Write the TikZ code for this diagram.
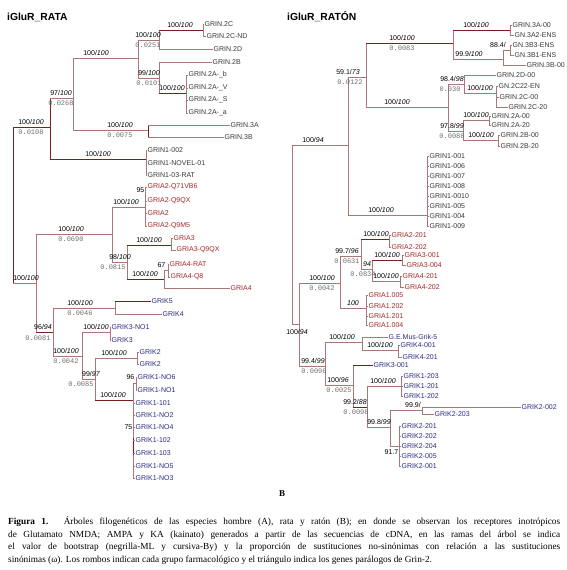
\documentclass[tikz,border=0pt]{standalone}
\usepackage{fontspec}
\setmainfont{Liberation Serif}
\setsansfont{Liberation Sans}
\setmonofont{Liberation Mono}
\definecolor{brC}{HTML}{A87878}
\definecolor{brD}{HTML}{7A1E1E}
\definecolor{nC}{HTML}{383838}
\definecolor{aC}{HTML}{A02828}
\definecolor{kC}{HTML}{2A2A80}
\definecolor{valC}{HTML}{6E6E6E}
\tikzset{
 br/.style={draw=brC, line width=0.75pt},
 brd/.style={draw=brD, line width=0.9pt},
 lab/.style={font=\sffamily\fontsize{7}{7}\selectfont, inner sep=0.5pt, text=black},
 val/.style={font=\ttfamily\fontsize{7}{7}\selectfont, inner sep=0.5pt, text=valC},
 leafN/.style={lab, anchor=west, text=nC},
 leafA/.style={lab, anchor=west, text=aC},
 leafK/.style={lab, anchor=west, text=kC},
 ttl/.style={font=\sffamily\bfseries\fontsize{10.3}{11}\selectfont, anchor=west, inner sep=0},
 capline/.style={font=\fontsize{9.3}{11}\selectfont, anchor=west, inner sep=0},
}
\newcommand\bsl[5]{\node[lab] (#1) at (#2,#3-5) {#4/\textit{#5}};}
\newcommand\oml[4]{\node[val] (#1) at (#2,#3+5.5) {#4};}
\newcommand\lf[5]{\node[#1] (#2) at (#3,#4) {#5};}
\begin{document}
\begin{tikzpicture}[x=1pt,y=-1pt]
\path[use as bounding box] (0,0) rectangle (566,570);
% ---------------- titles
\node[ttl] (t1) at (7,17) {iGluR\_RATA};
\node[ttl] (t2) at (287,17) {iGluR\_RATÓN};
% ================= LEFT TREE: leaves
\lf{leafN}{a1}{204}{24}{GRIN.2C}
\lf{leafN}{a2}{206}{36}{GRIN.2C-ND}
\lf{leafN}{a3}{213}{49}{GRIN.2D}
\lf{leafN}{a4}{212}{62}{GRIN.2B}
\lf{leafN}{a5}{188}{75}{GRIN.2A-\_b}
\lf{leafN}{a6}{188}{88}{GRIN.2A-\_V}
\lf{leafN}{a7}{188}{100}{GRIN.2A-\_S}
\lf{leafN}{a8}{188}{113}{GRIN.2A-\_a}
\lf{leafN}{a9}{230}{125}{GRIN.3A}
\lf{leafN}{a10}{224}{137}{GRIN.3B}
\lf{leafN}{a11}{147}{150}{GRIN1-002}
\lf{leafN}{a12}{147}{163}{GRIN1-NOVEL-01}
\lf{leafN}{a13}{147}{175}{GRIN1-03-RAT}
\lf{leafA}{a14}{147}{187}{GRIA2-Q71VB6}
\lf{leafA}{a15}{147}{201}{GRIA2-Q9QX}
\lf{leafA}{a16}{147}{213}{GRIA2}
\lf{leafA}{a17}{147}{226}{GRIA2-Q9M5}
\lf{leafA}{a18}{173}{238}{GRIA3}
\lf{leafA}{a19}{176}{250}{GRIA3-Q9QX}
\lf{leafA}{a20}{169}{264}{GRIA4-RAT}
\lf{leafA}{a21}{170}{277}{GRIA4-Q8}
\lf{leafA}{a22}{230}{288}{GRIA4}
\lf{leafK}{a23}{151}{301}{GRIK5}
\lf{leafK}{a24}{162}{314}{GRIK4}
\lf{leafK}{a25}{111}{327}{GRIK3-NO1}
\lf{leafK}{a26}{111}{340}{GRIK3}
\lf{leafK}{a27}{139}{352}{GRIK2}
\lf{leafK}{a28}{139}{364}{GRIK2}
\lf{leafK}{a29}{137}{377}{GRIK1-NO6}
\lf{leafK}{a30}{137}{390}{GRIK1-NO1}
\lf{leafK}{a31}{135}{403}{GRIK1-101}
\lf{leafK}{a32}{135}{415}{GRIK1-NO2}
\lf{leafK}{a33}{135}{427}{GRIK1-NO4}
\lf{leafK}{a34}{135}{440}{GRIK1-102}
\lf{leafK}{a35}{135}{453}{GRIK1-103}
\lf{leafK}{a36}{135}{466}{GRIK1-NO5}
\lf{leafK}{a37}{135}{478}{GRIK1-NO3}
% LEFT TREE: branches
\draw[brd] (13,127) -- (13,283);
\draw[brd] (13,127) -- (50,127);
\draw[br] (13,283) -- (36,283);
\draw[brd] (50,98) -- (50,159);
\draw[br] (50,98) -- (73,98);
\draw[brd] (50,159) -- (146,159);
\draw[br] (146,150) -- (146,175);
\foreach \n/\y in {a11/150,a12/163,a13/175} \draw[br] (146,\y) -- (\n.west);
\draw[br] (73,58) -- (73,130);
\draw[br] (73,58) -- (138,58);
\draw[br] (73,130) -- (148,130);
\draw[brd] (148,125) -- (148,137);
\draw[br] (148,125) -- (a9.west);
\draw[br] (148,137) -- (a10.west);
\draw[br] (138,40) -- (138,78);
\draw[br] (138,40) -- (159,40);
\draw[br] (138,78) -- (159,78);
\draw[br] (159,30) -- (159,49);
\draw[brd] (159,30) -- (203,30);
\draw[br] (159,49) -- (a3.west);
\draw[br] (203,24) -- (203,36);
\draw[br] (203,24) -- (a1.west);
\draw[br] (203,36) -- (a2.west);
\draw[br] (159,62) -- (159,93);
\draw[br] (159,62) -- (a4.west);
\draw[brd] (159,93) -- (186,93);
\draw[br] (186,75) -- (186,113);
\foreach \n/\y in {a5/75,a6/88,a7/100,a8/113} \draw[br] (186,\y) -- (\n.west);
\draw[br] (36,234) -- (36,332);
\draw[br] (36,234) -- (112,234);
\draw[brd] (36,332) -- (53,332);
\draw[br] (112,207) -- (112,262);
\draw[br] (112,207) -- (145,207);
\draw[br] (112,262) -- (127,262);
\draw[br] (145,187) -- (145,226);
\foreach \n/\y in {a14/187,a15/201,a16/213,a17/226} \draw[br] (145,\y) -- (\n.west);
\draw[br] (127,245) -- (127,279);
\draw[brd] (127,245) -- (171,245);
\draw[brd] (127,279) -- (164,279);
\draw[br] (171,238) -- (171,250);
\draw[br] (171,238) -- (a18.west);
\draw[br] (171,250) -- (a19.west);
\draw[br] (164,270) -- (164,288);
\draw[br] (164,270) -- (168,270);
\draw[br] (168,264) -- (168,277);
\draw[br] (168,264) -- (a20.west);
\draw[br] (168,277) -- (a21.west);
\draw[br] (164,288) -- (a22.west);
\draw[br] (53,308) -- (53,356);
\draw[br] (53,308) -- (115,308);
\draw[br] (53,356) -- (82,356);
\draw[br] (115,301) -- (115,314);
\draw[brd] (115,301) -- (a23.west);
\draw[br] (115,314) -- (a24.west);
\draw[br] (82,332) -- (82,379);
\draw[br] (82,332) -- (110,332);
\draw[br] (110,327) -- (110,340);
\draw[br] (110,327) -- (a25.west);
\draw[br] (110,340) -- (a26.west);
\draw[br] (82,379) -- (95,379);
\draw[br] (95,358) -- (95,400);
\draw[br] (95,358) -- (137,358);
\draw[br] (137,352) -- (137,364);
\draw[br] (137,352) -- (a27.west);
\draw[br] (137,364) -- (a28.west);
\draw[brd] (95,400) -- (133,400);
\draw[br] (133,383) -- (133,478);
\draw[draw=red!75!black, line width=0.9pt] (133,438) -- (133,455);
\draw[br] (133,383) -- (136,383);
\draw[br] (136,377) -- (136,390);
\draw[br] (136,377) -- (a29.west);
\draw[br] (136,390) -- (a30.west);
\foreach \n/\y in {a31/403,a32/415,a33/427,a34/440,a35/453,a36/466,a37/478} \draw[br] (133,\y) -- (\n.west);
% LEFT TREE: support labels
\bsl{b1}{31}{127}{100}{100} \oml{v1}{31}{127}{0.0108}
\bsl{b2}{26}{283}{100}{100}
\bsl{b3}{61}{98}{97}{100} \oml{v3}{61}{98}{0.0268}
\bsl{b4}{98}{159}{100}{100}
\bsl{b5}{96}{58}{100}{100}
\bsl{b6}{120}{130}{100}{100} \oml{v6}{120}{130}{0.0075}
\bsl{b7}{148}{40}{100}{100} \oml{v7}{148}{40}{0.0251}
\bsl{b8}{149}{78}{99}{100} \oml{v8}{149}{78}{0.0101}
\bsl{b9}{180}{30}{100}{100}
\bsl{b10}{172}{93}{100}{100}
\bsl{b11}{71}{234}{100}{100} \oml{v11}{71}{234}{0.0690}
\bsl{b12}{126}{207}{100}{100}
\bsl{b13}{120}{262}{98}{100} \oml{v13}{113}{262}{0.0815}
\bsl{b14}{149}{245}{100}{100}
\bsl{b15}{145}{279}{100}{100}
\node[lab, anchor=east] (b16) at (166,265) {67};
\node[lab, anchor=east] (b17) at (145,190) {95};
\bsl{b18}{43}{332}{96}{94} \oml{v18}{38}{333}{0.0081}
\bsl{b19}{80}{308}{100}{100} \oml{v19}{80}{308}{0.0046}
\bsl{b20}{66}{356}{100}{100} \oml{v20}{66}{356}{0.0042}
\bsl{b21}{96}{332}{100}{100}
\bsl{b22}{91}{379}{99}{97} \oml{v22}{81}{379}{0.0085}
\bsl{b23}{114}{358}{100}{100}
\bsl{b24}{113}{400}{100}{100}
\node[lab, anchor=east] (b25) at (135,377) {96};
\node[lab, anchor=east] (b26) at (133,427) {75};
% ================= RIGHT TREE: leaves
\lf{leafN}{r1}{512}{25}{GRIN.3A-00}
\lf{leafN}{r2}{514}{35}{GN.3A2-ENS}
\lf{leafN}{r3}{512}{45}{GN.3B3-ENS}
\lf{leafN}{r4}{514}{55}{GN.3B1-ENS}
\lf{leafN}{r5}{526}{65}{GRIN.3B-00}
\lf{leafN}{r6}{496}{75}{GRIN.2D-00}
\lf{leafN}{r7}{498}{86}{GN.2C22-EN}
\lf{leafN}{r8}{499}{97}{GRIN.2C-00}
\lf{leafN}{r9}{508}{107}{GRIN.2C-20}
\lf{leafN}{r10}{491}{116}{GRIN.2A-00}
\lf{leafN}{r11}{491}{125}{GRIN.2A-20}
\lf{leafN}{r12}{500}{135}{GRIN.2B-00}
\lf{leafN}{r13}{500}{146}{GRIN.2B-20}
\lf{leafN}{r14}{429}{156}{GRIN1-001}
\lf{leafN}{r15}{429}{166}{GRIN1-006}
\lf{leafN}{r16}{429}{176}{GRIN1-007}
\lf{leafN}{r17}{429}{186}{GRIN1-008}
\lf{leafN}{r18}{429}{196}{GRIN1-0010}
\lf{leafN}{r19}{429}{206}{GRIN1-005}
\lf{leafN}{r20}{429}{216}{GRIN1-004}
\lf{leafN}{r21}{429}{226}{GRIN1-009}
\lf{leafA}{r22}{391}{235}{GRIA2-201}
\lf{leafA}{r23}{391}{247}{GRIA2-202}
\lf{leafA}{r24}{404}{255}{GRIA3-001}
\lf{leafA}{r25}{406}{265}{GRIA3-004}
\lf{leafA}{r26}{402}{276}{GRIA4-201}
\lf{leafA}{r27}{404}{287}{GRIA4-202}
\lf{leafA}{r28}{368}{295}{GRIA1.005}
\lf{leafA}{r29}{368}{306}{GRIA1.202}
\lf{leafA}{r30}{368}{316}{GRIA1.201}
\lf{leafA}{r31}{368}{325}{GRIA1.004}
\lf{leafK}{r32}{388}{337}{G.E.Mus-Grik-5}
\lf{leafK}{r33}{400}{345}{GRIK4-001}
\lf{leafK}{r34}{402}{357}{GRIK4-201}
\lf{leafK}{r35}{373}{365}{GRIK3-001}
\lf{leafK}{r36}{403}{376}{GRIK1-203}
\lf{leafK}{r37}{403}{386}{GRIK1-201}
\lf{leafK}{r38}{403}{396}{GRIK1-202}
\lf{leafK}{r39}{521}{407}{GRIK2-002}
\lf{leafK}{r40}{434}{414}{GRIK2-203}
\lf{leafK}{r41}{401}{426}{GRIK2-201}
\lf{leafK}{r42}{401}{436}{GRIK2-202}
\lf{leafK}{r43}{401}{446}{GRIK2-204}
\lf{leafK}{r44}{401}{456}{GRIK2-005}
\lf{leafK}{r45}{401}{466}{GRIK2-001}
% RIGHT TREE: branches
\draw[br] (292,145) -- (292,324);
\draw[br] (292,145) -- (348,145);
\draw[br] (292,324) -- (299,324);
\draw[br] (348,77) -- (348,215);
\draw[br] (348,77) -- (366,77);
\draw[br] (348,215) -- (427,215);
\draw[br] (366,43) -- (366,107);
\draw[brd] (366,43) -- (453,43);
\draw[br] (366,107) -- (448,107);
\draw[br] (453,30) -- (453,59);
\draw[brd] (453,30) -- (510,30);
\draw[br] (510,25) -- (510,35);
\draw[br] (510,25) -- (r1.west);
\draw[br] (510,35) -- (r2.west);
\draw[br] (453,59) -- (503,59);
\draw[br] (503,50) -- (503,65);
\draw[br] (503,50) -- (510,50);
\draw[br] (510,45) -- (510,55);
\draw[br] (510,45) -- (r3.west);
\draw[br] (510,55) -- (r4.west);
\draw[br] (503,65) -- (r5.west);
\draw[br] (448,84) -- (448,131);
\draw[br] (448,84) -- (464,84);
\draw[br] (464,75) -- (464,93);
\draw[br] (464,75) -- (r6.west);
\draw[br] (464,93) -- (496,93);
\draw[br] (496,86) -- (496,107);
\draw[br] (496,86) -- (r7.west);
\draw[br] (496,97) -- (r8.west);
\draw[br] (496,107) -- (r9.west);
\draw[br] (448,131) -- (463,131);
\draw[br] (463,120) -- (463,140);
\draw[br] (463,120) -- (489,120);
\draw[br] (489,116) -- (489,125);
\draw[br] (489,116) -- (r10.west);
\draw[br] (489,125) -- (r11.west);
\draw[br] (463,140) -- (498,140);
\draw[br] (498,135) -- (498,146);
\draw[br] (498,135) -- (r12.west);
\draw[br] (498,146) -- (r13.west);
\draw[br] (427,156) -- (427,226);
\foreach \i/\y in {14/156,15/166,16/176,17/186,18/196,19/206,20/216,21/226} \draw[br] (427,\y) -- (r\i.west);
\draw[br] (299,283) -- (299,366);
\draw[br] (299,283) -- (340,283);
\draw[br] (299,366) -- (325,366);
\draw[br] (340,256) -- (340,308);
\draw[br] (340,256) -- (361,256);
\draw[br] (340,308) -- (366,308);
\draw[br] (361,239) -- (361,269);
\draw[brd] (361,239) -- (389,239);
\draw[br] (389,235) -- (389,247);
\draw[br] (389,235) -- (r22.west);
\draw[br] (389,247) -- (r23.west);
\draw[br] (361,269) -- (372,269);
\draw[br] (372,260) -- (372,281);
\draw[brd] (372,260) -- (402,260);
\draw[br] (402,255) -- (402,265);
\draw[br] (402,255) -- (r24.west);
\draw[br] (402,265) -- (r25.west);
\draw[br] (372,281) -- (400,281);
\draw[br] (400,276) -- (400,287);
\draw[br] (400,276) -- (r26.west);
\draw[br] (400,287) -- (r27.west);
\draw[br] (366,295) -- (366,325);
\foreach \i/\y in {28/295,29/306,30/316,31/325} \draw[br] (366,\y) -- (r\i.west);
\draw[br] (325,342) -- (325,385);
\draw[br] (325,342) -- (362,342);
\draw[br] (362,337) -- (362,350);
\draw[br] (362,337) -- (r32.west);
\draw[br] (362,350) -- (398,350);
\draw[br] (398,345) -- (398,357);
\draw[br] (398,345) -- (r33.west);
\draw[br] (398,357) -- (r34.west);
\draw[br] (325,385) -- (353,385);
\draw[br] (353,365) -- (353,407);
\draw[brd] (353,365) -- (r35.west);
\draw[brd] (353,407) -- (367,407);
\draw[br] (367,386) -- (367,427);
\draw[br] (367,386) -- (401,386);
\draw[br] (401,376) -- (401,396);
\foreach \i/\y in {36/376,37/386,38/396} \draw[br] (401,\y) -- (r\i.west);
\draw[br] (367,427) -- (390,427);
\draw[br] (390,410) -- (390,446);
\draw[br] (390,410) -- (422,410);
\draw[br] (422,407) -- (422,414);
\draw[br] (422,407) -- (r39.west);
\draw[br] (422,414) -- (r40.west);
\draw[br] (390,446) -- (399,446);
\draw[br] (399,426) -- (399,466);
\foreach \i/\y in {41/426,42/436,43/446,44/456,45/466} \draw[br] (399,\y) -- (r\i.west);
% RIGHT TREE: support labels
\bsl{c1}{313}{145}{100}{94}
\node[lab] (c2) at (297,332) {100/\textit{94}};
\bsl{c3}{348}{77}{59.1}{73} \oml{w3}{350}{77}{0.0122}
\bsl{c4}{381}{215}{100}{100}
\bsl{c5}{402}{43}{100}{100} \oml{w5}{402}{43}{0.0083}
\bsl{c6}{397}{107}{100}{100}
\bsl{c7}{476}{30}{100}{100}
\bsl{c8}{469}{59}{99.9}{100}
\node[lab] (c9) at (498,45) {88.4/};
\bsl{c10}{452}{84}{98.4}{98} \oml{w10}{450}{84}{0.030}
\bsl{c11}{480}{93}{100}{100}
\bsl{c12}{452}{131}{97.8}{99} \oml{w12}{452}{131}{0.0088}
\bsl{c13}{476}{120}{100}{100}
\bsl{c14}{481}{140}{100}{100}
\bsl{c15}{322}{283}{100}{100} \oml{w15}{322}{283}{0.0042}
\bsl{c16}{313}{366}{99.4}{99} \oml{w16}{314}{366}{0.0096}
\bsl{c17}{347}{256}{99.7}{96} \oml{w17}{347}{256}{0.0631}
\node[lab] (c18) at (353,303) {\textit{100}};
\bsl{c19}{376}{239}{100}{100}
\node[lab] (c20) at (367,264) {\textit{94}};
\oml{w20}{363}{269}{0.0834}
\bsl{c21}{387}{260}{100}{100}
\bsl{c22}{386}{281}{100}{100}
\bsl{c23}{342}{342}{100}{100}
\bsl{c24}{380}{350}{100}{100}
\bsl{c25}{338}{385}{100}{96} \oml{w25}{339}{385}{0.0025}
\bsl{c26}{355}{407}{99.2}{88} \oml{w26}{356}{407}{0.0098}
\bsl{c27}{383}{386}{100}{100}
\bsl{c28}{379}{427}{99.8}{99}
\bsl{c29}{413}{410}{99.9}{}
\node[lab, anchor=east] (c30) at (399,452) {91.7};
% ---------------- caption
\node[font=\bfseries\fontsize{9}{9}\selectfont, inner sep=0] (B) at (282,494) {B};
\node[capline] (k1) at (8,522) {\makebox[552pt][s]{\textbf{Figura 1.} Árboles filogenéticos de las especies hombre (A), rata y ratón (B); en donde se observan los receptores inotrópicos}};
\node[capline] (k2) at (8,535) {\makebox[552pt][s]{de Glutamato NMDA; AMPA y KA (kainato) generados a partir de las secuencias de cDNA, en las ramas del árbol se indica}};
\node[capline] (k3) at (8,547) {\makebox[552pt][s]{el valor de bootstrap (negrilla-ML y cursiva-By) y la proporción de sustituciones no-sinónimas con relación a las sustituciones}};
\node[capline] (k4) at (8,560) {sinónimas (ω). Los rombos indican cada grupo farmacológico y el triángulo indica los genes parálogos de Grin-2.};
\end{tikzpicture}
\end{document}
